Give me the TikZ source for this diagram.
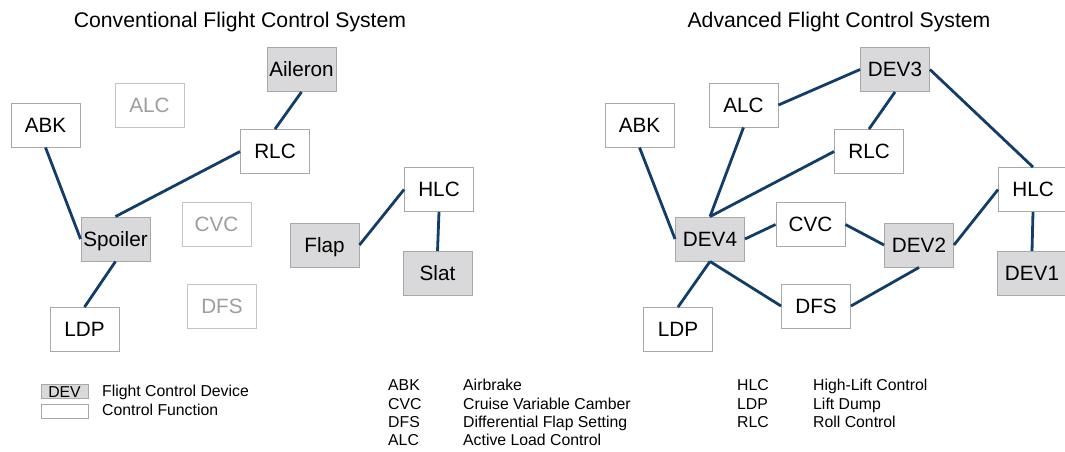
\documentclass[tikz,border=0pt]{standalone}
\usepackage{fontspec}
\setmainfont{Liberation Sans}
\definecolor{edgeblue}{HTML}{123D68}
\definecolor{devfill}{HTML}{D9D9DB}
\definecolor{boxline}{HTML}{A8A8A8}
\definecolor{dimline}{HTML}{C4C4C4}
\definecolor{dimtext}{HTML}{9E9E9E}
\begin{document}
\begin{tikzpicture}[x=1pt,y=-1pt,
  fbox/.style={draw=boxline, line width=0.9pt, fill=white, minimum width=69pt, minimum height=44pt, inner sep=0pt, font=\fontsize{20.7}{24}\selectfont, text height=14.8pt, text depth=0pt},
  dev/.style={fbox, fill=devfill},
  dim/.style={fbox, draw=dimline, text=dimtext},
  link/.style={draw=edgeblue, line width=2.8pt},
  ttl/.style={font=\fontsize{21.2}{24}\selectfont, anchor=base, inner sep=0pt},
  leg/.style={font=\fontsize{15.8}{18}\selectfont, anchor=base west, inner sep=0pt},
  legbox/.style={draw=boxline, line width=0.8pt, minimum width=47pt, minimum height=14pt, inner sep=0pt, font=\fontsize{15.8}{18}\selectfont, text height=11.2pt, text depth=0pt}]
\useasboundingbox (0,0) rectangle (1065,451);

% Titles
\node[ttl] (t1) at (240,27.5) {Conventional Flight Control System};
\node[ttl] (t2) at (839,27.5) {Advanced Flight Control System};

% Left panel
\node[dev] (lAil) at (301.5,69.5) {Aileron};
\node[dim] (lALC) at (149.5,105) {ALC};
\node[fbox] (lABK) at (45.5,125) {ABK};
\node[fbox] (lRLC) at (275,151.5) {RLC};
\node[fbox] (lHLC) at (439,189.5) {HLC};
\node[dim] (lCVC) at (216.5,224.5) {CVC};
\node[dev] (lSpo) at (115.5,239) {Spoiler};
\node[dev] (lFlap) at (324.5,245) {Flap};
\node[dev] (lSlat) at (437.5,273.5) {Slat};
\node[dim] (lDFS) at (222,306) {DFS};
\node[fbox] (lLDP) at (84.5,329.5) {LDP};

\draw[link] (lAil.south) -- (lRLC.north);
\draw[link] (lRLC.west) -- (lSpo.north);
\draw[link] (lABK.south) -- (lSpo.west);
\draw[link] (lSpo.south) -- (lLDP.north);
\draw[link] (lHLC.west) -- (lFlap.east);
\draw[link] (lHLC.south) -- (lSlat.north);

% Right panel
\node[dev] (rD3) at (895,69.5) {DEV3};
\node[fbox] (rALC) at (743.5,105) {ALC};
\node[fbox] (rABK) at (639.5,125) {ABK};
\node[fbox] (rRLC) at (869,151.5) {RLC};
\node[fbox] (rHLC) at (1033,189.5) {HLC};
\node[fbox] (rCVC) at (810.5,224.5) {CVC};
\node[dev] (rD4) at (710,239) {DEV4};
\node[dev] (rD2) at (919,245) {DEV2};
\node[dev] (rD1) at (1032,273.5) {DEV1};
\node[fbox] (rDFS) at (816,306) {DFS};
\node[fbox] (rLDP) at (678,329.5) {LDP};

\draw[link] (rALC.east) -- (rD3.west);
\draw[link] (rD3.south) -- (rRLC.north);
\draw[link] (rD3.east) -- (rHLC.north);
\draw[link] (rALC.south) -- (rD4.north);
\draw[link] (rRLC.west) -- (rD4.north);
\draw[link] (rABK.south) -- (rD4.west);
\draw[link] (rD4.east) -- (rCVC.west);
\draw[link] (rCVC.east) -- (rD2.west);
\draw[link] (rD2.east) -- (rHLC.west);
\draw[link] (rHLC.south) -- (rD1.north);
\draw[link] (rD4.south) -- (rLDP.north);
\draw[link] (rD4.south) -- (rDFS.west);
\draw[link] (rDFS.east) -- (rD2.south);

% Legend
\node[legbox, fill=devfill] (kdev) at (64.5,391.5) {DEV};
\node[legbox, fill=white] (kfun) at (64.5,411.5) {};
\node[leg] (kdevt) at (102,396) {Flight Control Device};
\node[leg] (kfunt) at (102,415) {Control Function};

\node[leg] (a1) at (388,390.7) {ABK};
\node[leg] (a2) at (388,409) {CVC};
\node[leg] (a3) at (388,427.3) {DFS};
\node[leg] (a4) at (388,445.7) {ALC};
\node[leg] (d1) at (463,390.7) {Airbrake};
\node[leg] (d2) at (463,409) {Cruise Variable Camber};
\node[leg] (d3) at (463,427.3) {Differential Flap Setting};
\node[leg] (d4) at (463,445.7) {Active Load Control};

\node[leg] (b1) at (737,390.7) {HLC};
\node[leg] (b2) at (737,409) {LDP};
\node[leg] (b3) at (737,427.3) {RLC};
\node[leg] (e1) at (813,390.7) {High-Lift Control};
\node[leg] (e2) at (813,409) {Lift Dump};
\node[leg] (e3) at (813,427.3) {Roll Control};
\end{tikzpicture}
\end{document}
